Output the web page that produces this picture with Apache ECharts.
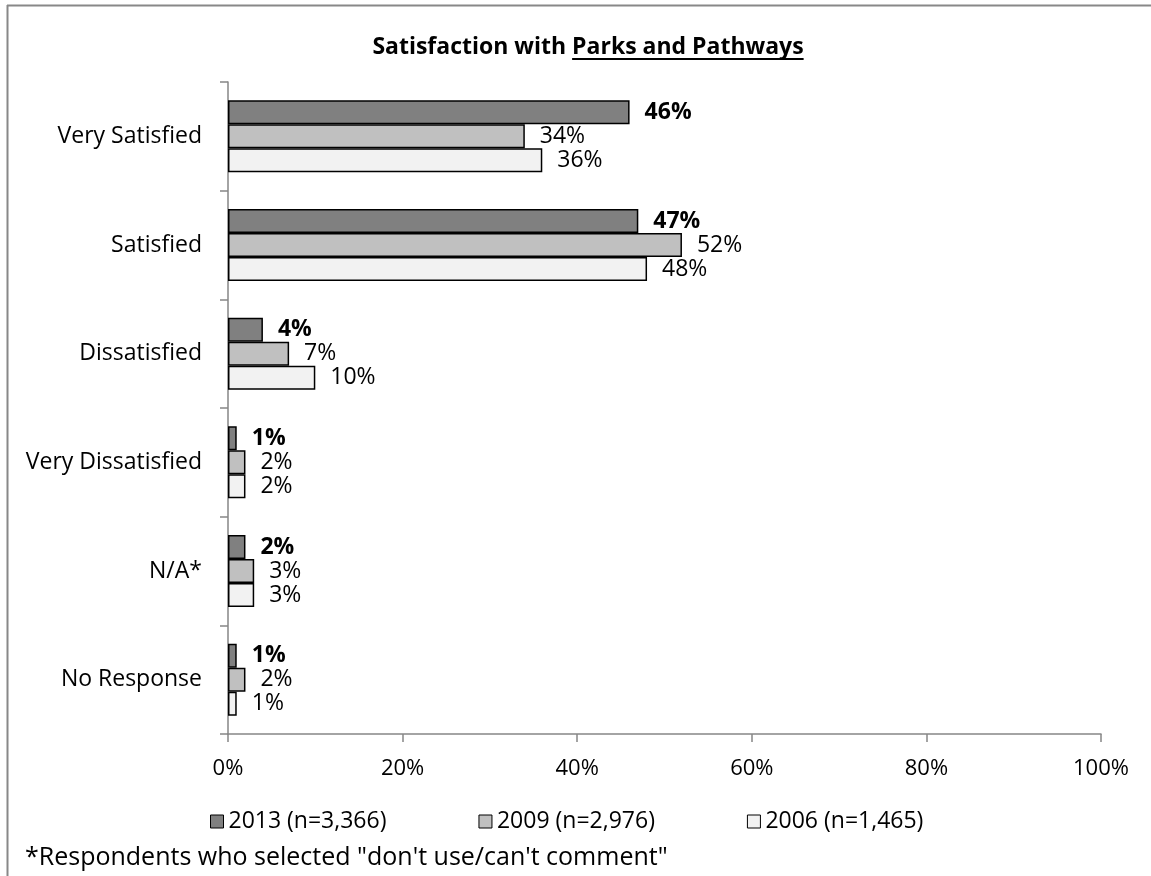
<!DOCTYPE html>
<html><head><meta charset="utf-8">
<script src="https://cdn.jsdelivr.net/npm/echarts@6/dist/echarts.min.js"></script>
<style>html,body{margin:0;padding:0;background:#fff}#c{width:1151px;height:876px}</style>
</head><body><div id="c"></div>
<script>
const categories = ["Very Satisfied","Satisfied","Dissatisfied","Very Dissatisfied","N/A*","No Response"];
const seriesNames = ["2013 (n=3,366)","2009 (n=2,976)","2006 (n=1,465)"];
const values2013 = [46,47,4,1,2,1];
const values2009 = [34,52,7,2,3,2];
const values2006 = [36,48,10,2,3,1];
const xTicks = [0,20,40,60,80,100];
const titlePart1 = "Satisfaction with ";
const titlePart2 = "Parks and Pathways";
const footnote = "*Respondents who selected \"don't use/can't comment\"";

const FONT = "'Open Sans', sans-serif";
const colors = ["#808080","#c0c0c0","#f2f2f2"];
const chart = echarts.init(document.getElementById('c'), null, {renderer:'canvas'});

const cv = document.createElement('canvas').getContext('2d');
const titleFont = "bold 23px 'Open Sans'";
cv.font = titleFont;
const w1 = cv.measureText(titlePart1).width;
const wAll = cv.measureText(titlePart1 + titlePart2).width;
const tCenter = 588, tY = 47;
const tStart = tCenter - wAll/2;

const legendFontSize = 23, legendGap = 92, iconW = 13;

function mk(name, data, idx){
  return {
    name, type:'bar', data, barWidth:24, barGap:'0%',
    itemStyle:{color:colors[idx], borderColor:'#000', borderWidth:1.5},
    label:{show:true, position:'right', distance:15, formatter:'{c}%',
      fontFamily:FONT, fontSize:23, color:'#000', fontWeight: idx===0?'bold':'normal'}
  };
}

chart.setOption({
  animation:false,
  backgroundColor:'#fff',
  grid:{left:228, right:50, top:82, bottom:142, containLabel:false},
  xAxis:{type:'value', min:0, max:100, interval:20,
    axisLine:{show:true, lineStyle:{color:'#868686', width:1.5}},
    axisTick:{show:true, length:8, lineStyle:{color:'#868686', width:1.5}},
    splitLine:{show:false},
    axisLabel:{formatter:'{value}%', fontFamily:FONT, fontSize:22, color:'#000', margin:24}},
  yAxis:{type:'category', data:categories, inverse:true,
    axisLine:{show:true, lineStyle:{color:'#868686', width:1.5}},
    axisTick:{show:true, length:8, lineStyle:{color:'#868686', width:1.5}},
    axisLabel:{fontFamily:FONT, fontSize:23, color:'#000', margin:26}},
  legend:{top:810, left:210, padding:0, itemWidth:iconW, itemHeight:13, itemGap:legendGap, icon:'rect',
    data:seriesNames,
    textStyle:{fontFamily:FONT, fontSize:legendFontSize, color:'#000', padding:[0,0,0,0]},
    itemStyle:{borderColor:'#000', borderWidth:1}},
  series:[mk(seriesNames[0],values2013,0), mk(seriesNames[1],values2009,1), mk(seriesNames[2],values2006,2)],
  graphic:[
    {type:'line', shape:{x1:7, y1:5.5, x2:1151, y2:5.5}, style:{stroke:'#888', lineWidth:2}, silent:true},
    {type:'line', shape:{x1:7.5, y1:5, x2:7.5, y2:876}, style:{stroke:'#888', lineWidth:2}, silent:true},
    {type:'text', x:tStart, y:tY, style:{text:titlePart1, font:titleFont, fill:'#000', textAlign:'left', textVerticalAlign:'middle'}},
    {type:'text', x:tStart + w1, y:tY, style:{text:titlePart2, font:titleFont, fill:'#000', textAlign:'left', textVerticalAlign:'middle'}},
    {type:'line', shape:{x1:tStart + w1, y1:tY+12, x2:tStart + wAll, y2:tY+12}, style:{stroke:'#000', lineWidth:2}},
    {type:'text', x:25, y:858, style:{text:footnote, font:"25px 'Open Sans'", fill:'#000', textAlign:'left', textVerticalAlign:'middle'}}
  ]
});
</script></body></html>
